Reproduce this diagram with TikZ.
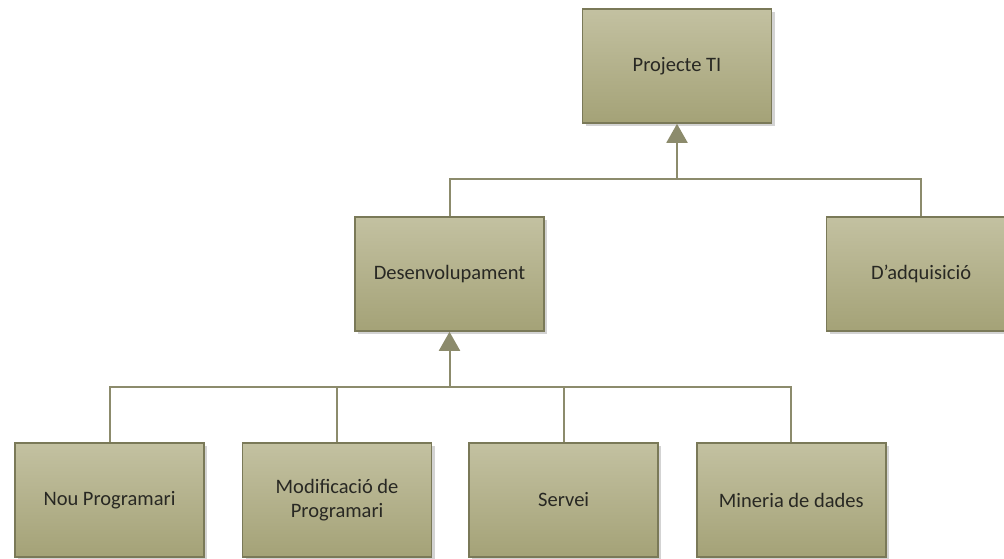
\documentclass[tikz,border=0pt]{standalone}
\usepackage{fontspec}
\setmainfont{Carlito}
\usepackage{tikz}
\usetikzlibrary{positioning, arrows.meta, calc, shadows}

\definecolor{boxtop}{RGB}{195,193,161}
\definecolor{boxbot}{RGB}{164,162,119}
\definecolor{boxline}{RGB}{122,121,88}
\definecolor{wire}{RGB}{140,139,108}
\definecolor{txt}{RGB}{40,40,35}

\begin{document}
\begin{tikzpicture}[x=1pt, y=1pt,
    box/.style={draw=boxline, line width=1.6pt, top color=boxtop, bottom color=boxbot,
        minimum width=189pt, minimum height=114pt, align=center, text=txt,
        font=\fontsize{20.5}{24}\selectfont,
        drop shadow={shadow xshift=3pt, shadow yshift=-3pt, opacity=0.35, fill=gray}},
    wire/.style={draw=wire, line width=2pt},
    up/.style={wire, -{Triangle[width=21pt, length=19pt, fill=wire]}}]
        \useasboundingbox (0,0) rectangle (1004,-559);
        \node[box] (1) at (677,-66) {Projecte TI};
        \node[box] (2) at (449.5,-274) {Desenvolupament};
        \node[box, right=281pt of 2] (3) {D’adquisició};
        \node[box] (4) at (109.5,-500) {Nou Programari};
        \node[box, right=37pt of 4] (5) {Modificació de\\Programari};
        \node[box, right=36pt of 5] (6) {Servei};
        \node[box, right=37pt of 6] (7) {Mineria de dades};
        % junctions
        \coordinate (j1) at (1.south |- 0,-179);
        \coordinate (j2) at (2.south |- 0,-387);
        \draw[wire]
        (2.north) |- (j1) -| (3.north)
        (4.north) |- (j2) -| (7.north)
        (5.north) -- (5.north |- j2)
        (6.north) -- (6.north |- j2);
        \draw[up] (j1) -- (1.south);
        \draw[up] (j2) -- (2.south);
    \end{tikzpicture}
\end{document}
